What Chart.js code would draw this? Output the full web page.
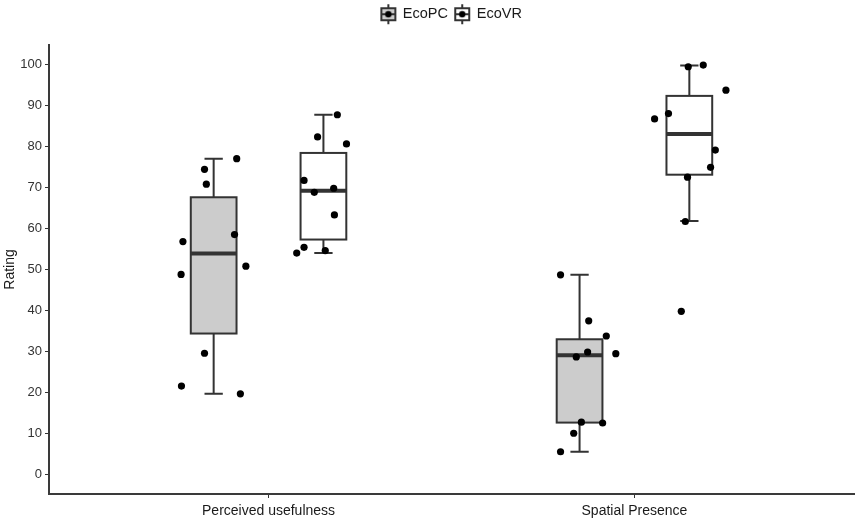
<!DOCTYPE html>
<html lang="en">
<head>
    <meta charset="UTF-8">
    <title>Rating boxplot</title>
    <script src="https://cdn.jsdelivr.net/npm/chart.js"></script>
    <style>
        html, body { margin: 0; padding: 0; background: #fff; }
        .box-grafico { width: 858px; height: 523px; position: relative; }
    </style>
</head>
<body>
    <div class="box-grafico">
        <canvas id="grafico_box"></canvas>
    </div>
<script>
    // categories and groups
    var categorias = ['Perceived usefulness', 'Spatial Presence'];
    var grupos = ['EcoPC', 'EcoVR'];
    var yTicks = [0, 10, 20, 30, 40, 50, 60, 70, 80, 90, 100];

    // box stats per category (whisker low, Q1, median, Q3, whisker high)
    var pcLow = [19.7, 5.6];
    var pcQ1 = [34.4, 12.7];
    var pcMediana = [53.9, 29.1];
    var pcQ3 = [67.6, 33.0];
    var pcHigh = [77.0, 48.7];

    var vrLow = [54.0, 61.8];
    var vrQ1 = [57.3, 73.1];
    var vrMediana = [69.2, 83.0];
    var vrQ3 = [78.4, 92.3];
    var vrHigh = [87.7, 99.7];

    // individual ratings + horizontal jitter (x units)
    var pcUsefulness = [77.0, 74.4, 70.8, 56.8, 58.5, 48.8, 50.8, 29.6, 21.6, 19.7];
    var pcUsefulnessJitter = [0.063, -0.025, -0.020, -0.084, 0.057, -0.089, 0.088, -0.025, -0.088, 0.073];
    var pcPresence = [48.7, 37.5, 33.8, 29.9, 29.5, 28.7, 12.8, 12.6, 10.1, 5.6];
    var pcPresenceJitter = [-0.052, 0.025, 0.073, 0.022, 0.099, -0.009, 0.005, 0.063, -0.016, -0.052];

    var vrUsefulness = [87.7, 82.3, 80.6, 71.7, 69.8, 68.8, 63.3, 55.4, 54.6, 54.0];
    var vrUsefulnessJitter = [0.038, -0.016, 0.063, -0.053, 0.028, -0.025, 0.030, -0.053, 0.005, -0.073];
    var vrPresence = [99.8, 99.4, 93.7, 88.0, 86.7, 79.1, 74.9, 72.5, 61.7, 39.8];
    var vrPresenceJitter = [0.038, -0.003, 0.100, -0.057, -0.095, 0.071, 0.058, -0.005, -0.011, -0.022];

    var dodge = 0.15;
    var larguraBox = 0.125;
    var larguraCap = 0.05;
    var corFill = ['#cccccc', '#ffffff'];
    var corLinha = '#333333';

    function montarPontos(valores, jitters, centro) {
        return valores.map(function (v, i) {
            return { x: centro + jitters[i], y: v };
        });
    }

    var pontosPC = montarPontos(pcUsefulness, pcUsefulnessJitter, 1 - dodge)
        .concat(montarPontos(pcPresence, pcPresenceJitter, 2 - dodge));
    var pontosVR = montarPontos(vrUsefulness, vrUsefulnessJitter, 1 + dodge)
        .concat(montarPontos(vrPresence, vrPresenceJitter, 2 + dodge));

    var stats = [
        { low: pcLow, q1: pcQ1, med: pcMediana, q3: pcQ3, high: pcHigh, off: -dodge, fill: corFill[0] },
        { low: vrLow, q1: vrQ1, med: vrMediana, q3: vrQ3, high: vrHigh, off: dodge, fill: corFill[1] }
    ];

    // boxes + whiskers drawn through the chart scales
    var boxPlugin = {
        id: 'boxPlugin',
        beforeDatasetsDraw: function (chart) {
            var ctx = chart.ctx;
            var xs = chart.scales.x;
            var ys = chart.scales.y;
            ctx.save();
            stats.forEach(function (s) {
                for (var i = 0; i < categorias.length; i++) {
                    var c = i + 1 + s.off;
                    var xc = xs.getPixelForValue(c);
                    var xl = xs.getPixelForValue(c - larguraBox / 2);
                    var xr = xs.getPixelForValue(c + larguraBox / 2);
                    var cl = xs.getPixelForValue(c - larguraCap / 2);
                    var cr = xs.getPixelForValue(c + larguraCap / 2);
                    var yLow = ys.getPixelForValue(s.low[i]);
                    var yQ1 = ys.getPixelForValue(s.q1[i]);
                    var yMed = ys.getPixelForValue(s.med[i]);
                    var yQ3 = ys.getPixelForValue(s.q3[i]);
                    var yHigh = ys.getPixelForValue(s.high[i]);

                    ctx.strokeStyle = corLinha;
                    ctx.lineWidth = 2;
                    ctx.beginPath();
                    ctx.moveTo(xc, yHigh); ctx.lineTo(xc, yQ3);
                    ctx.moveTo(xc, yQ1); ctx.lineTo(xc, yLow);
                    ctx.moveTo(cl, yHigh); ctx.lineTo(cr, yHigh);
                    ctx.moveTo(cl, yLow); ctx.lineTo(cr, yLow);
                    ctx.stroke();

                    ctx.fillStyle = s.fill;
                    ctx.fillRect(xl, yQ3, xr - xl, yQ1 - yQ3);
                    ctx.lineWidth = 2;
                    ctx.strokeRect(xl, yQ3, xr - xl, yQ1 - yQ3);

                    ctx.lineWidth = 4;
                    ctx.beginPath();
                    ctx.moveTo(xl, yMed); ctx.lineTo(xr, yMed);
                    ctx.stroke();
                }
            });
            ctx.restore();
        }
    };

    // legend glyph: small boxplot key with point
    function glifo(fill) {
        var cv = document.createElement('canvas');
        cv.width = 18; cv.height = 22;
        var g = cv.getContext('2d');
        g.strokeStyle = corLinha;
        g.lineWidth = 2;
        g.beginPath(); g.moveTo(9, 1); g.lineTo(9, 21); g.stroke();
        g.fillStyle = fill;
        g.fillRect(2, 5, 14, 12);
        g.lineWidth = 2;
        g.strokeRect(2, 5, 14, 12);
        g.lineWidth = 2;
        g.beginPath(); g.moveTo(2, 11); g.lineTo(16, 11); g.stroke();
        g.fillStyle = '#000';
        g.beginPath(); g.arc(9, 11, 3.2, 0, Math.PI * 2); g.fill();
        return cv;
    }
    var glifos = [glifo(corFill[0]), glifo(corFill[1])];

    var legendaAltura = {
        id: 'legendaAltura',
        beforeInit: function (chart) {
            var fit = chart.legend.fit;
            chart.legend.fit = function () {
                fit.call(this);
                this.height = 45;
            };
        }
    };

    Chart.defaults.font.family = '"Liberation Sans", Arial, sans-serif';

    const chart = new Chart('grafico_box', {
        type: 'scatter',
        data: {
            datasets: [
                { label: grupos[0], data: pontosPC, backgroundColor: '#000', borderWidth: 0, pointRadius: 3.6 },
                { label: grupos[1], data: pontosVR, backgroundColor: '#000', borderWidth: 0, pointRadius: 3.6 }
            ]
        },
        options: {
            animation: false,
            responsive: true,
            maintainAspectRatio: false,
            layout: { padding: { left: 0, right: 2, top: 0, bottom: 0 } },
            plugins: {
                tooltip: { enabled: false },
                legend: {
                    position: 'top',
                    fullSize: false,
                    labels: {
                        usePointStyle: true,
                        padding: 7,
                        color: '#1a1a1a',
                        font: { size: 14.5 },
                        generateLabels: function () {
                            return grupos.map(function (g, i) {
                                return { text: g, pointStyle: glifos[i], fillStyle: corFill[i], strokeStyle: corLinha, lineWidth: 0, hidden: false, datasetIndex: i, fontColor: '#1a1a1a' };
                            });
                        }
                    }
                }
            },
            scales: {
                x: {
                    type: 'linear',
                    min: 0.4,
                    max: 2.6,
                    afterBuildTicks: function (scale) {
                        scale.ticks = categorias.map(function (c, i) { return { value: i + 1 }; });
                    },
                    afterFit: function (scale) { scale.height = 29; },
                    ticks: {
                        color: '#1a1a1a',
                        font: { size: 14 },
                        padding: 5,
                        maxRotation: 0,
                        callback: function (v) { return categorias[Math.round(v) - 1]; }
                    },
                    grid: { display: true, drawOnChartArea: false, drawTicks: true, tickLength: 4, tickColor: '#333', tickWidth: 1 },
                    border: { display: true, color: '#3a3a3a', width: 2 }
                },
                y: {
                    min: -4.7,
                    max: 104.7,
                    afterBuildTicks: function (scale) {
                        scale.ticks = yTicks.map(function (v) { return { value: v }; });
                    },
                    afterFit: function (scale) { scale.width = 49; },
                    title: { display: true, text: 'Rating', color: '#1a1a1a', font: { size: 14 }, padding: { top: 2, bottom: 2 } },
                    ticks: { color: '#333333', font: { size: 13 }, padding: 3 },
                    grid: { display: true, drawOnChartArea: false, drawTicks: true, tickLength: 4, tickColor: '#333', tickWidth: 1 },
                    border: { display: true, color: '#3a3a3a', width: 2 }
                }
            }
        },
        plugins: [boxPlugin, legendaAltura]
    });
</script>
</body>
</html>
